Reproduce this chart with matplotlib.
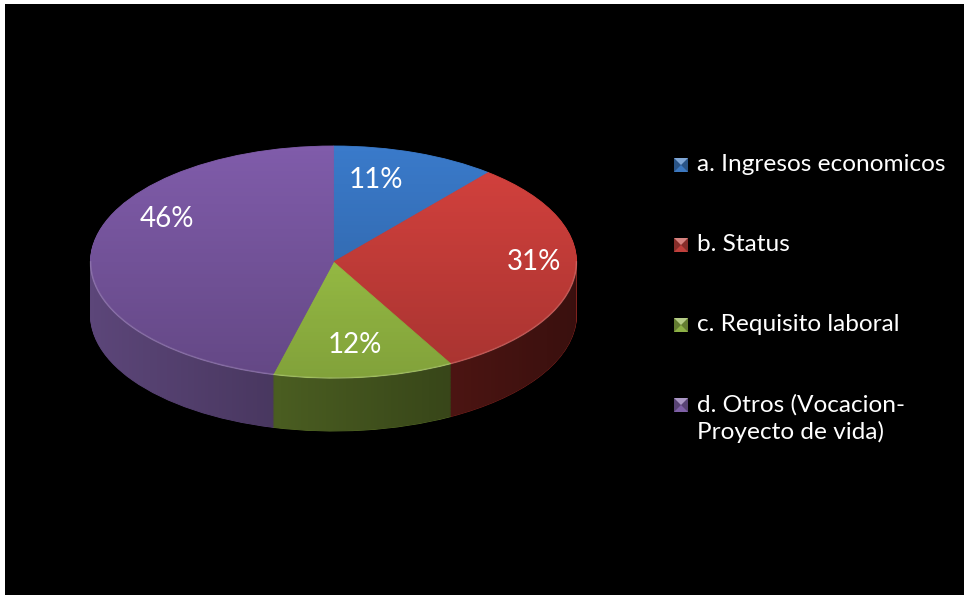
import numpy as np
import matplotlib
matplotlib.use('Agg')
import matplotlib.pyplot as plt
import matplotlib.patches as mpatches
from matplotlib.colors import to_rgb

# data
labels = ['a. Ingresos economicos', 'b. Status', 'c. Requisito laboral',
          'd. Otros (Vocacion-\nProyecto de vida)']
values = [11, 31, 12, 46]

# colours (top face, side wall, legend key)
top_colors = ['#3A7ACA', '#D6423E', '#A6CF4B', '#805CAA']
side_colors = ['#2a5890', '#80231f', '#5e762a', '#5c4679']
key_colors = ['#3C78C0', '#C0403C', '#8DB146', '#7E60A6']

W, H = 964, 595
font = 'Lato'

fig = plt.figure(figsize=(W / 100, H / 100), dpi=100, facecolor='white')

# background axes in pixel units (black panel + legend)
bg = fig.add_axes([0, 0, 1, 1])
bg.set_xlim(0, W)
bg.set_ylim(H, 0)
bg.axis('off')
bg.add_patch(mpatches.Rectangle((5, 4), W - 5, H - 4, color='black', lw=0))

# pie geometry: unit circle -> ellipse of a x b pixels
cx, cy, a, b = 333.5, 262, 243, 116
depth = 53 / b
x0, x1 = -1.05, 1.05
y0, y1 = -1.65, 1.08
ax = fig.add_axes([(cx + a * x0) / W, 1 - (cy - b * y0) / H,
                   a * (x1 - x0) / W, b * (y1 - y0) / H])

# side wall: stack of darker pies pushed down
for d in np.linspace(depth, 0.0, 70)[:-1]:
    ws, _ = ax.pie(values, colors=side_colors, startangle=90, counterclock=False,
                   center=(0, -d), radius=1, wedgeprops=dict(lw=0))
    for w in ws:
        w.set_zorder(2)
        w.set_edgecolor(w.get_facecolor())
        w.set_linewidth(0.6)

# darken the side wall toward the right
t = np.linspace(np.pi, 2 * np.pi, 200)
side_path = np.concatenate([np.c_[np.cos(t), np.sin(t)],
                            np.c_[np.cos(t[::-1]), np.sin(t[::-1]) - depth]])
side_clip = mpatches.Polygon(side_path, closed=True, transform=ax.transData,
                             fc='none', ec='none')
ax.add_patch(side_clip)
ramp = np.zeros((2, 256, 4))
ramp[..., 3] = np.linspace(0.0, 0.55, 256)
im = ax.imshow(ramp, extent=(-1, 1, -1 - depth, 0), aspect='auto', zorder=3,
               interpolation='bilinear')
im.set_clip_path(side_clip)

# top face
wedges, texts, autotexts = ax.pie(
    values, colors=top_colors, startangle=90, counterclock=False,
    autopct='%1.0f%%', pctdistance=0.7, wedgeprops=dict(lw=0),
    textprops=dict(color='white', fontsize=20, family=font))
for w in wedges:
    w.set_zorder(4)
    w.set_edgecolor(w.get_facecolor())
    w.set_linewidth(0.6)

# vertical shading of the top face
top_clip = mpatches.Circle((0, 0), 1, transform=ax.transData, fc='none', ec='none')
ax.add_patch(top_clip)
vramp = np.zeros((256, 2, 4))
vramp[..., 3] = np.linspace(0.0, 0.22, 256)[:, None]
im2 = ax.imshow(vramp, extent=(-1, 1, -1, 1), origin='upper', aspect='auto',
                zorder=5, interpolation='bilinear')
im2.set_clip_path(top_clip)

# soft highlight on the front rim
ax.plot(np.cos(t), np.sin(t), color='white', alpha=0.16, lw=1.2, zorder=6)

# label nudges in pixels (Excel places them off the pure radial spot)
nudges = [(-15, -6), (31, -8), (0, 2), (2, -33)]
for txt, (dx, dy) in zip(autotexts, nudges):
    px, py = txt.get_position()
    txt.set_position((px + dx / a, py - dy / b))
    txt.set_zorder(10)

ax.set_xlim(x0, x1)
ax.set_ylim(y0, y1)
ax.set_aspect('auto')
ax.axis('off')

# legend drawn by hand so the key sits on the first text line
rows = [165, 245, 325, 405]
ks = 14
for lab, col, yc in zip(labels, key_colors, rows):
    base = np.array(to_rgb(col))
    light = base + (1 - base) * 0.35
    dark = base * 0.7
    xl, yt = 674, yc - ks / 2
    bg.add_patch(mpatches.Rectangle((xl, yt), ks, ks, color=dark, lw=0))
    c = (xl + ks / 2, yc)
    bg.add_patch(mpatches.Polygon([(xl, yt), (xl + ks, yt), c], color=light, lw=0))
    bg.add_patch(mpatches.Polygon([(xl, yt + ks), (xl + ks, yt + ks), c], color=base, lw=0))
    bg.text(697, yc - 11, lab, color='white', fontsize=17.6, family=font,
            va='top', ha='left', linespacing=1.3)

fig.savefig('out.png', dpi=100, facecolor='white')
